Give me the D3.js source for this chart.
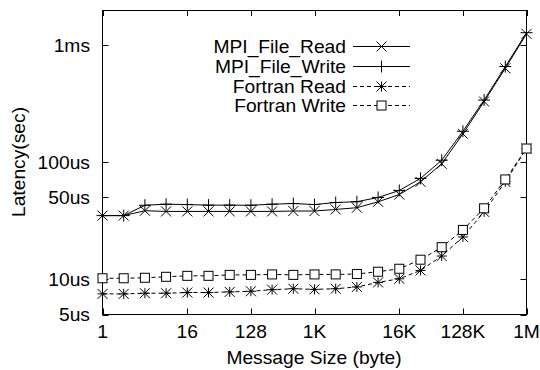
<!DOCTYPE html>
<html>
<head>
<meta charset="utf-8">
<script src="https://cdn.jsdelivr.net/npm/d3@7"></script>
<style>
  body { margin: 0; background: #fff; }
  svg { font-family: "Liberation Sans", Arial, sans-serif; }
</style>
</head>
<body>
<div id="chart"></div>
<script>
// message sizes 2^0 .. 2^20 bytes
const sizes = d3.range(0, 21).map(i => Math.pow(2, i));

// latencies in microseconds
const mpiRead = [35, 35, 38.5, 38, 38, 38, 38, 38, 38, 38.3, 38.3, 39.5, 40.9, 45.9, 53, 68, 97, 175, 330, 635, 1250];
const mpiWrite = [35, 35, 42.9, 43.8, 43.5, 43, 43, 42.9, 43.8, 44.4, 43.5, 45.3, 46, 50, 57.4, 72.8, 104, 184, 340, 657, 1280];
const fortranRead = [7.5, 7.5, 7.6, 7.6, 7.7, 7.7, 7.8, 7.9, 8.15, 8.3, 8.2, 8.3, 8.6, 9.4, 10.1, 11.9, 15.8, 23, 37.7, 68, 131];
const fortranWrite = [10.2, 10.2, 10.3, 10.5, 10.7, 10.7, 10.9, 10.9, 11, 10.9, 11, 11, 11.1, 11.6, 12.3, 14.7, 18.8, 26.4, 40.4, 71.3, 131];

const xTicks = [1, 16, 128, 1024, 16384, 131072, 1048576];
const xTickLabels = ["1", "16", "128", "1K", "16K", "128K", "1M"];
const yTicks = [5, 10, 50, 100, 1000];
const yTickLabels = ["5us", "10us", "50us", "100us", "1ms"];

const seriesNames = ["MPI_File_Read", "MPI_File_Write", "Fortran Read", "Fortran Write"];
const seriesValues = [mpiRead, mpiWrite, fortranRead, fortranWrite];
const seriesMarkers = ["x", "plus", "star", "square"];
const seriesDash = [null, null, "4,3", "4,3"];

const width = 540, height = 370;
const pLeft = 102.5, pRight = 526.5, pTop = 10, pBottom = 314.5;
const fs = 17.5, sx = 1.1;

const svg = d3.select("#chart").append("svg")
  .attr("width", width).attr("height", height);

const x = d3.scaleLog().base(2).domain([1, 1048576]).range([pLeft, pRight]);
const y = d3.scaleLog().domain([5, 2000]).range([pBottom, pTop]);

// text helper: gnuplot text is a bit wider than Arial
function label(sel, tx, ty, str, anchor, rot) {
  return sel.append("text")
    .attr("transform", `translate(${tx},${ty})` + (rot ? ` rotate(${rot})` : "") + ` scale(${sx},1)`)
    .attr("text-anchor", anchor).attr("font-size", fs).text(str);
}

// ticks (inward, mirrored)
const tl = 6;
const g = svg.append("g").attr("stroke", "#000").attr("stroke-width", 1);
xTicks.forEach(t => {
  const px = Math.round(x(t)) + 0.5;
  g.append("line").attr("x1", px).attr("x2", px).attr("y1", pBottom).attr("y2", pBottom - tl);
  g.append("line").attr("x1", px).attr("x2", px).attr("y1", pTop).attr("y2", pTop + tl);
});
yTicks.forEach(t => {
  const py = Math.round(y(t)) + 0.5;
  g.append("line").attr("x1", pLeft).attr("x2", pLeft + tl).attr("y1", py).attr("y2", py);
  g.append("line").attr("x1", pRight).attr("x2", pRight - tl).attr("y1", py).attr("y2", py);
});

// tick labels
const xl = svg.append("g");
xTicks.forEach((t, i) => label(xl, x(t), 338, xTickLabels[i], "middle"));
const yl = svg.append("g");
yTicks.forEach((t, i) => label(yl, 90, y(t) + 6.5, yTickLabels[i], "end"));

// axis titles
label(svg, 314, 364, "Message Size (byte)", "middle");
label(svg, 25, 162, "Latency(sec)", "middle", -90);

// frame
svg.append("rect").attr("x", pLeft).attr("y", pTop + 0.5)
  .attr("width", pRight - pLeft).attr("height", pBottom - pTop - 0.5)
  .attr("fill", "none").attr("stroke", "#000");

function drawMarker(sel, type, cx, cy) {
  const s = 5;
  const gm = sel.append("g").attr("transform", "translate(" + cx + "," + cy + ")")
    .attr("stroke", "#000").attr("stroke-width", 1).attr("fill", "none");
  if (type === "x" || type === "star") {
    gm.append("path").attr("d", `M${-s},${-s}L${s},${s}M${-s},${s}L${s},${-s}`);
  }
  if (type === "plus" || type === "star") {
    const p = type === "plus" ? 6 : 5;
    gm.append("path").attr("d", `M${-p},0L${p},0M0,${-p}L0,${p}`);
  }
  if (type === "square") {
    gm.append("rect").attr("x", -4.5).attr("y", -4.5).attr("width", 9).attr("height", 9)
      .attr("fill", "#fff");
  }
}

const line = d3.line().x(d => x(d[0])).y(d => y(d[1]));

seriesValues.forEach((vals, k) => {
  const pts = sizes.map((s, i) => [s, vals[i]]);
  svg.append("path").datum(pts)
    .attr("d", line).attr("fill", "none").attr("stroke", "#000")
    .attr("stroke-width", 1)
    .attr("stroke-dasharray", seriesDash[k]);
  const mg = svg.append("g");
  pts.forEach(p => drawMarker(mg, seriesMarkers[k], x(p[0]), y(p[1])));
});

// legend
const legY = [46, 66, 86, 105];
const lg = svg.append("g");
seriesNames.forEach((name, k) => {
  label(lg, 346, legY[k] + 6.5, name, "end");
  lg.append("line").attr("x1", 353).attr("x2", 410)
    .attr("y1", legY[k] + 0.5).attr("y2", legY[k] + 0.5)
    .attr("stroke", "#000").attr("stroke-dasharray", seriesDash[k]);
  drawMarker(lg, seriesMarkers[k], 381.5, legY[k] + 0.5);
});
</script>
</body>
</html>
